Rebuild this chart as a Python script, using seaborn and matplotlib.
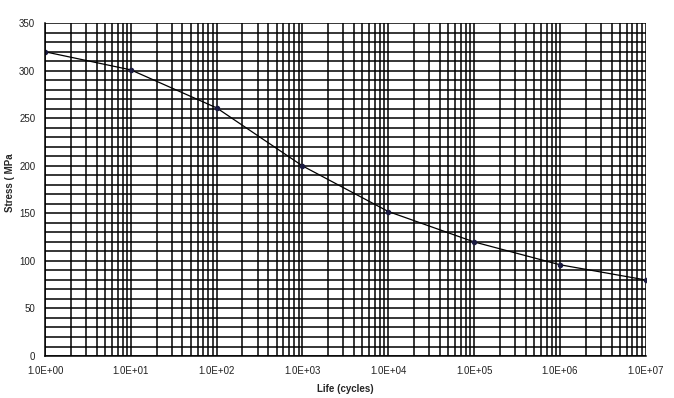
import numpy as np
import pandas as pd
import matplotlib
matplotlib.use("Agg")
import matplotlib.pyplot as plt
import seaborn as sns
from matplotlib.ticker import LogLocator, MultipleLocator

life = [1, 10, 100, 1000, 1e4, 1e5, 1e6, 1e7]
stress = [320, 301, 261, 200, 152, 120, 96, 80]
x_tick_labels = ["1.0E+00", "1.0E+01", "1.0E+02", "1.0E+03", "1.0E+04", "1.0E+05", "1.0E+06", "1.0E+07"]

sns.set_style("white")
plt.rcParams['font.family'] = ['Liberation Sans', 'DejaVu Sans']

fig = plt.figure(figsize=(6.74, 3.98), dpi=100)
ax = fig.add_axes([0.0668, 0.1055, 0.8912, 0.836])

df = pd.DataFrame({"life": life, "stress": stress})
sns.lineplot(data=df, x="life", y="stress", ax=ax, color="black", linewidth=0.9,
             marker="o", markersize=3.2, markerfacecolor="#1a1a40", markeredgecolor="#1a1a40")

ax.set_xscale("log")
ax.set_xlim(1, 1e7)
ax.set_ylim(0, 350)
ax.set_xticks(life)
ax.set_xticklabels(x_tick_labels)
ax.xaxis.set_minor_locator(LogLocator(base=10, subs=np.arange(2, 10), numticks=100))
ax.xaxis.set_minor_formatter(plt.NullFormatter())
ax.yaxis.set_major_locator(MultipleLocator(50))
ax.yaxis.set_minor_locator(MultipleLocator(10))

ax.grid(True, which="both", axis="both", color="black", linewidth=1.1)
ax.set_axisbelow(True)

for s in ["top", "right"]:
    ax.spines[s].set_visible(False)
for s in ["left", "bottom"]:
    ax.spines[s].set_color("black")
    ax.spines[s].set_linewidth(1.1)

ax.tick_params(axis="both", which="major", labelsize=7, length=3, color="black", labelcolor="#222222", pad=4)
ax.tick_params(axis="both", which="minor", length=0)

ax.set_xlabel("Life (cycles)", fontsize=7, fontweight="bold", labelpad=6)
ax.set_ylabel("Stress ( MPa", fontsize=7, fontweight="bold")
ax.yaxis.set_label_coords(-0.05, 0.52)

fig.savefig("out.png", dpi=100)
